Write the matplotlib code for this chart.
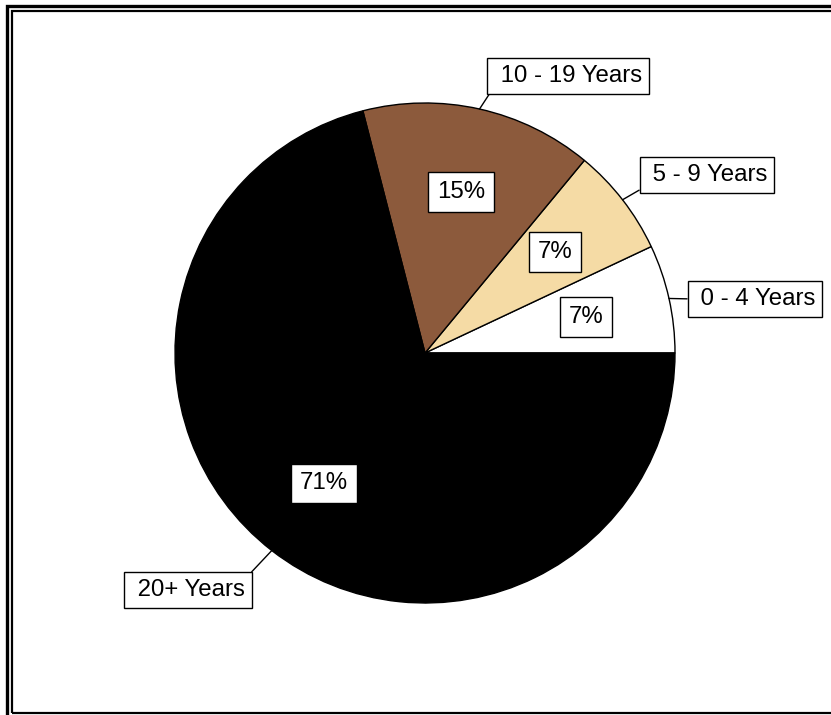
import numpy as np
import matplotlib
matplotlib.use('Agg')
import matplotlib.pyplot as plt
from matplotlib.patches import Rectangle

plt.rcParams['font.family'] = ['Liberation Sans', 'DejaVu Sans']

labels = ['0 - 4 Years', '5 - 9 Years', '10 - 19 Years', '20+ Years']
values = [7, 7, 15, 71]
colors = ['#FFFFFF', '#F5DBA5', '#8C5A3C', '#000000']
# box centres for the category labels (pixels, from top-left)
label_pos = [(755, 299), (707, 175), (568, 76), (188, 590)]
# where each leader line meets its box (fraction of the box)
label_attach = [(0, 0.5), (0, 0), (0, 0), (1, 1)]

W, H = 831, 715
fig = plt.figure(figsize=(W / 100, H / 100), dpi=100)
ax = fig.add_axes([0, 0, 1, 1])

cx, cy, r = 425, H - 353, 250
wedges, texts, autotexts = ax.pie(values, colors=colors, startangle=0, counterclock=True,
                                  center=(cx, cy), radius=r, autopct='%d%%', pctdistance=0.66,
                                  wedgeprops=dict(edgecolor='black', linewidth=1),
                                  textprops=dict(fontsize=17.3, color='black'))
for t in autotexts:
    t.set_bbox(dict(boxstyle='square,pad=0.36', facecolor='white', edgecolor='black', linewidth=1))

for w, lab, (px, py), rel in zip(wedges, labels, label_pos, label_attach):
    ang = np.deg2rad((w.theta1 + w.theta2) / 2)
    xy = (cx + r * np.cos(ang), cy + r * np.sin(ang))
    ax.annotate(' ' + lab, xy=xy, xytext=(px, H - py), fontsize=17.3,
                ha='center', va='center',
                bbox=dict(boxstyle='square,pad=0.28', facecolor='white', edgecolor='black', linewidth=1),
                arrowprops=dict(arrowstyle='-', color='black', linewidth=1, shrinkA=0, shrinkB=0,
                                relpos=rel))

ax.set_xlim(0, W)
ax.set_ylim(0, H)
ax.set_aspect('equal')
ax.axis('off')

# double frame
fig.patches.append(Rectangle((6.5 / W, -0.1), 1.2, (H - 6) / H + 0.1, transform=fig.transFigure,
                             fill=False, edgecolor='black', linewidth=2.4))
fig.patches.append(Rectangle((12 / W, (H - 713) / H), 1.2, (713 - 11) / H, transform=fig.transFigure,
                             fill=False, edgecolor='black', linewidth=1.6))

fig.savefig('out.png', dpi=100)
